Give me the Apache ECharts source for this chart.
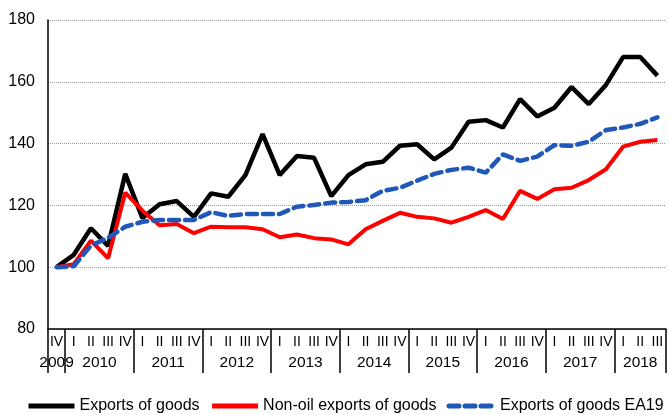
<!DOCTYPE html>
<html>
<head>
<meta charset="utf-8">
<script src="https://cdn.jsdelivr.net/npm/echarts@6/dist/echarts.min.js"></script>
<style>
  html, body { margin: 0; padding: 0; background: #fff; }
  #chart { width: 669px; height: 415px; }
</style>
</head>
<body>
<div id="chart"></div>
<script>
// quarters 2009 IV .. 2018 III
const quarters = ["IV",
  "I", "II", "III", "IV", "I", "II", "III", "IV", "I", "II", "III", "IV",
  "I", "II", "III", "IV", "I", "II", "III", "IV", "I", "II", "III", "IV",
  "I", "II", "III", "IV", "I", "II", "III", "IV", "I", "II", "III"];

// year labels on a half-quarter grid (73 slots), placed at the middle of each year
const yearNames = ["2009", "2010", "2011", "2012", "2013", "2014", "2015", "2016", "2017", "2018"];
const yearSlots = [1, 6, 14, 22, 30, 38, 46, 54, 62, 69];

const exportsGoods = [100, 104, 112.6, 106.9, 130.2, 115.9, 120.4, 121.4, 116.3, 123.9,
  122.8, 129.8, 143.1, 129.8, 136, 135.4, 123, 129.8, 133.3, 134.1,
  139.3, 139.8, 134.9, 138.7, 147.1, 147.6, 145.2, 154.4, 148.8, 151.6,
  158.3, 152.8, 159, 168, 168, 162];

const nonOilExports = [100, 101, 108.6, 102.9, 124.1, 118.3, 113.6, 114, 111, 113.1,
  112.9, 112.9, 112.3, 109.7, 110.6, 109.4, 109, 107.4, 112.3, 115,
  117.6, 116.3, 115.8, 114.4, 116.3, 118.5, 115.6, 124.7, 122.1, 125.2,
  125.7, 128.2, 131.7, 139, 140.6, 141.2];

const exportsEA19 = [100, 100.3, 107, 109.5, 113.1, 114.7, 115.3, 115.3, 115.3, 117.8,
  116.6, 117.2, 117.2, 117.2, 119.6, 120.1, 120.9, 121.1, 121.7, 124.7,
  125.7, 128, 130.2, 131.5, 132.2, 130.6, 136.5, 134.4, 135.8, 139.5,
  139.3, 140.6, 144.4, 145.2, 146.4, 148.5];

const yearAxisData = [];
for (let k = 0; k <= quarters.length * 2; k++) {
  const j = yearSlots.indexOf(k);
  yearAxisData.push(j >= 0 ? yearNames[j] : "");
}

const font = "Liberation Sans, Arial, sans-serif";
const chart = echarts.init(document.getElementById("chart"));

chart.setOption({
  animation: false,
  textStyle: { fontFamily: font, color: "#000" },
  grid: { left: 48, right: 0, top: 20, bottom: 86 },
  legend: {
    top: 393,
    left: 21,
    itemWidth: 46,
    itemHeight: 14,
    itemGap: 10,
    itemStyle: { opacity: 0 },
    lineStyle: { width: 5 },
    textStyle: { fontFamily: font, fontSize: 16, color: "#000" },
    data: ["Exports of goods", "Non-oil exports of goods", "Exports of goods EA19"]
  },
  xAxis: [
    {
      type: "category",
      data: quarters,
      boundaryGap: true,
      axisLine: { lineStyle: { color: "#000", width: 1.5 } },
      axisTick: {
        show: true,
        length: 44,
        lineStyle: { color: "#000", width: 1.5 },
        interval: function (index, value) {
          return index === 0 || value === "I";
        }
      },
      axisLabel: { interval: 0, fontSize: 14, margin: 6, color: "#000", fontFamily: font },
      splitLine: { show: false }
    },
    {
      type: "category",
      data: yearAxisData,
      boundaryGap: false,
      position: "bottom",
      axisLine: { show: false },
      axisTick: { show: false },
      axisLabel: { interval: 0, fontSize: 15.5, margin: 26, color: "#000", fontFamily: font },
      splitLine: { show: false }
    }
  ],
  yAxis: {
    type: "value",
    min: 80,
    max: 180,
    interval: 20,
    axisLine: { show: true, lineStyle: { color: "#000", width: 1.5 } },
    axisTick: { show: false },
    axisLabel: { fontSize: 16, margin: 13, color: "#000", fontFamily: font },
    splitLine: { lineStyle: { color: "#9a9a9a", type: "dotted", width: 1 } }
  },
  series: [
    {
      name: "Exports of goods",
      type: "line",
      data: exportsGoods,
      symbol: "none",
      z: 3,
      itemStyle: { color: "#000" },
      lineStyle: { color: "#000", width: 4.5 }
    },
    {
      name: "Non-oil exports of goods",
      type: "line",
      data: nonOilExports,
      symbol: "none",
      z: 4,
      itemStyle: { color: "#ff0000" },
      lineStyle: { color: "#ff0000", width: 4 }
    },
    {
      name: "Exports of goods EA19",
      type: "line",
      data: exportsEA19,
      symbol: "none",
      z: 5,
      itemStyle: { color: "#1f58b8" },
      lineStyle: { color: "#1f58b8", width: 4.5, type: [10, 6], cap: "round" }
    }
  ]
});
</script>
</body>
</html>
